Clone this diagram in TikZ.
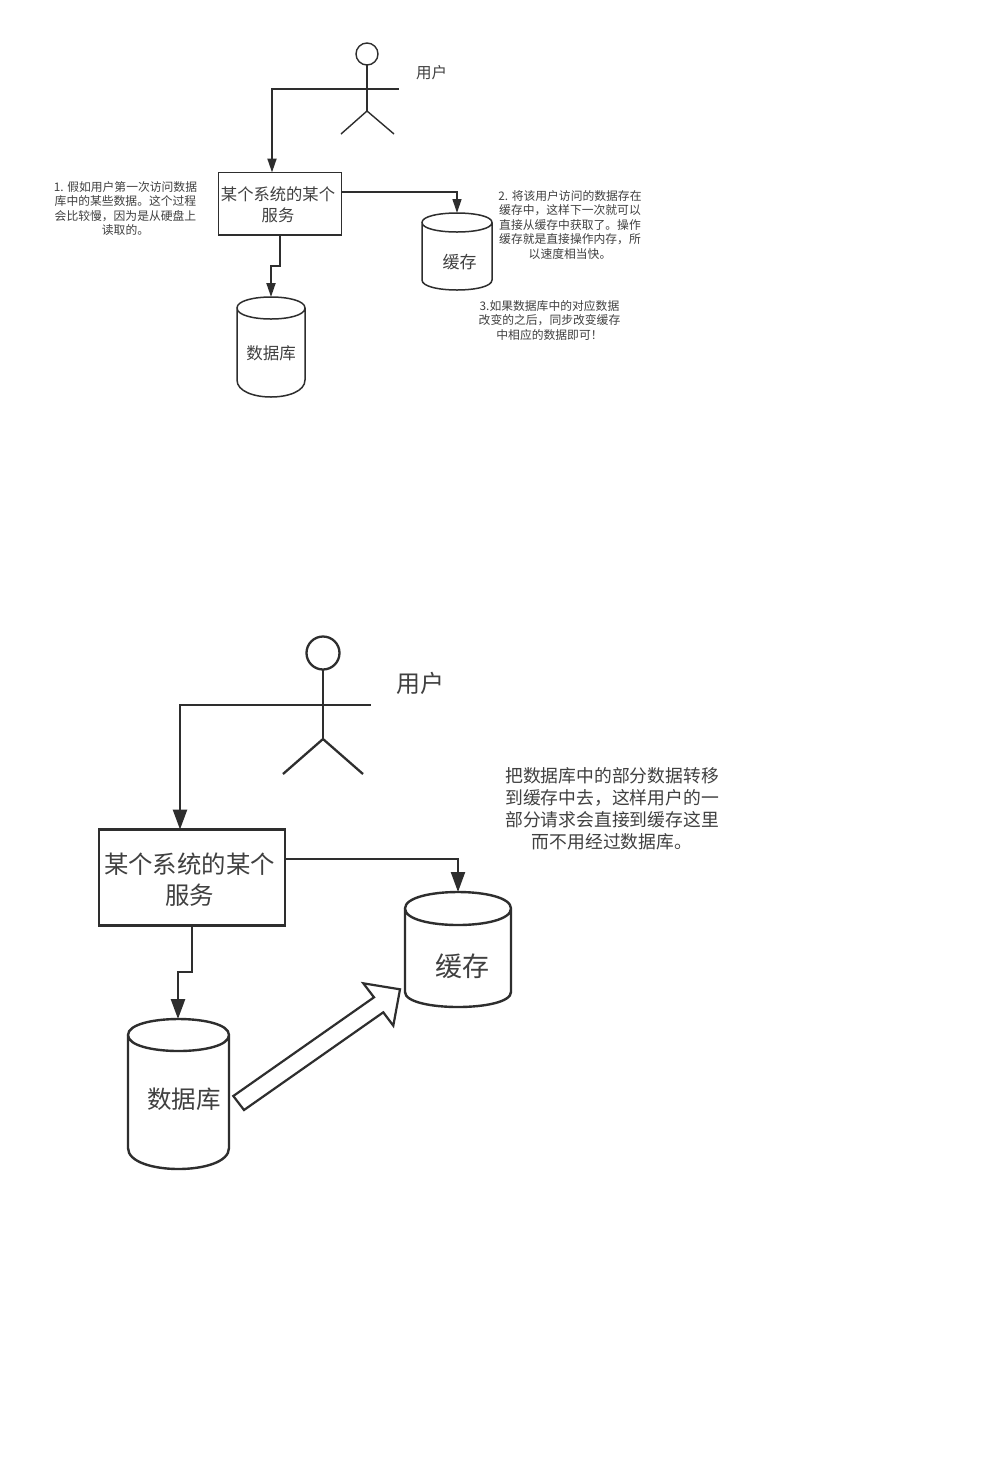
\documentclass[tikz,border=0pt]{standalone}
\usepackage{fontspec}
\setmainfont{Noto Sans CJK SC}
\usetikzlibrary{arrows.meta}
\definecolor{ink}{HTML}{2E2E2E}
\definecolor{txt}{HTML}{404040}
\tikzset{
  shapeA/.style={draw=ink,line width=1.5pt,fill=white},
  shapeB/.style={draw=ink,line width=2.4pt,fill=white},
  actorA/.style={draw=ink,line width=1.4pt},
  actorB/.style={draw=ink,line width=2.3pt},
  flowA/.style={draw=ink,line width=1.9pt,-{Triangle[length=14pt,width=9pt]}},
  thinA/.style={draw=ink,line width=1.3pt,-{Triangle[length=14pt,width=9pt]}},
  flowB/.style={draw=ink,line width=2.7pt,-{Triangle[length=20pt,width=14pt]}},
  thinB/.style={draw=ink,line width=2.2pt,-{Triangle[length=20pt,width=14pt]}},
  note/.style={inner sep=0pt,align=center,text=txt,font=\fontsize{11.8}{14.5}\selectfont},
  noteB/.style={inner sep=0pt,align=center,text=txt,font=\fontsize{17.8}{22}\selectfont},
  boxA/.style={shapeA,inner sep=0pt,outer sep=0pt,minimum width=123pt,minimum height=62.5pt},
  boxB/.style={shapeB,inner sep=0pt,outer sep=0pt,minimum width=186pt,minimum height=96pt},
  boxtextA/.style={inner sep=0pt,align=center,text=txt,font=\fontsize{16.3}{20.5}\selectfont},
  boxtextB/.style={inner sep=0pt,align=center,text=txt,font=\fontsize{24.4}{31}\selectfont},
  cylnode/.style={inner sep=0pt,text=txt},
  x=1pt,y=-1pt
}
% #1 style, #2 left, #3 right, #4 top, #5 ellipse bottom, #6 side end, #7 bottom
\newcommand{\cylshape}[7]{%
  \pgfmathsetmacro{\cx}{(#2+#3)/2}%
  \pgfmathsetmacro{\rx}{(#3-#2)/2}%
  \pgfmathsetmacro{\ry}{(#5-#4)/2}%
  \pgfmathsetmacro{\cy}{(#4+#5)/2}%
  \pgfmathsetmacro{\dy}{(#7-#6)*4/3}%
  \path[#1] (#2,\cy) -- (#2,#6) .. controls (#2,#6+\dy) and (#3,#6+\dy) .. (#3,#6) -- (#3,\cy)
     .. controls (#3,\cy-\ry*4/3) and (#2,\cy-\ry*4/3) .. (#2,\cy)
     .. controls (#2,\cy+\ry*4/3) and (#3,\cy+\ry*4/3) .. (#3,\cy);
}
\begin{document}
\begin{tikzpicture}
\useasboundingbox (0,0) rectangle (992,1484);
\fill[white] (0,0) rectangle (992,1484);

% ---- top diagram ----
\draw[actorA] (367,54) circle[radius=11];
\draw[actorA] (367,65) -- (367,111);
\draw[actorA] (367,111) -- (341,134);
\draw[actorA] (367,111) -- (394,134);
\coordinate (armA) at (335,89);
\coordinate (armAr) at (399,89);
\draw[actorA] (armA) -- (armAr);
\node[inner sep=0pt,text=txt,font=\fontsize{15.5}{18}\selectfont] (userA) at (431.5,73) {用户};

\node[boxA,anchor=north west] (svcA) at (218.5,172.5) {};
\node[boxtextA] (svcAt) at (278,205) {某个系统的某个\\服务};
\cylshape{shapeA}{237}{305}{297}{319}{380}{397}
\coordinate (dbAtop) at (271,297);
\node[cylnode,font=\fontsize{16.5}{20}\selectfont] (dbA) at (271,353) {数据库};
\cylshape{shapeA}{422}{492}{213}{232}{280}{290}
\coordinate (caAtop) at (457,213);
\node[cylnode,font=\fontsize{17}{20}\selectfont] (caA) at (459.5,262) {缓存};

\draw[flowA] (armA) -- (272,89) -- (svcA.north -| 272,0);
\coordinate (svcAr) at (svcA.east |- 0,192);
\draw[thinA] (svcAr) -- (457,192) -- (caAtop);
\coordinate (svcAb) at (svcA.south -| 280,0);
\draw[flowA] (svcAb) -- (280,266) -- (271,266) -- (dbAtop);

\node[note] (n1) at (125.5,208.5) {1. 假如用户第一次访问数据\\库中的某些数据。这个过程\\会比较慢，因为是从硬盘上\\读取的。};
\node[note] (n2) at (570,225) {2. 将该用户访问的数据存在\\缓存中，这样下一次就可以\\直接从缓存中获取了。操作\\缓存就是直接操作内存，所\\以速度相当快。};
\node[note] (n3) at (549.5,320.5) {3.如果数据库中的对应数据\\改变的之后，同步改变缓存\\中相应的数据即可！};

% ---- bottom diagram ----
\draw[actorB] (323,653) circle[radius=16.5];
\draw[actorB] (323,669.5) -- (323,739);
\draw[actorB] (323,739) -- (283,774);
\draw[actorB] (323,739) -- (363,774);
\coordinate (armB) at (275,705);
\coordinate (armBr) at (371,705);
\draw[actorB] (armB) -- (armBr);
\node[inner sep=0pt,text=txt,font=\fontsize{24}{28}\selectfont] (userB) at (420,683) {用户};

\node[boxB,anchor=north west] (svcB) at (99,829.5) {};
\node[boxtextB] (svcBt) at (189.5,879.5) {某个系统的某个\\服务};
\cylshape{shapeB}{128}{229}{1019}{1051}{1148}{1169}
\coordinate (dbBtop) at (178,1019);
\node[cylnode,font=\fontsize{24.5}{28}\selectfont] (dbB) at (184,1099) {数据库};
\cylshape{shapeB}{405}{511}{892}{925}{992}{1007}
\coordinate (caBtop) at (458,892);
\node[cylnode,font=\fontsize{27}{30}\selectfont] (caB) at (462,966) {缓存};

\draw[flowB] (armB) -- (180,705) -- (svcB.north -| 180,0);
\coordinate (svcBr) at (svcB.east |- 0,859);
\draw[thinB] (svcBr) -- (458,859) -- (caBtop);
\coordinate (svcBb) at (svcB.south -| 192,0);
\draw[flowB] (svcBb) -- (192,972) -- (178,972) -- (dbBtop);

\path[shapeB,line width=2.2pt,line join=miter] (233.3,1096) -- (244,1110) -- (383.3,1012.3) -- (393.3,1025.7) -- (400,989.3) -- (363.3,983.3) -- (374,997.3) -- cycle;

\node[noteB] (n4) at (612,808.5) {把数据库中的部分数据转移\\到缓存中去，这样用户的一\\部分请求会直接到缓存这里\\而不用经过数据库。};
\end{tikzpicture}
\end{document}
